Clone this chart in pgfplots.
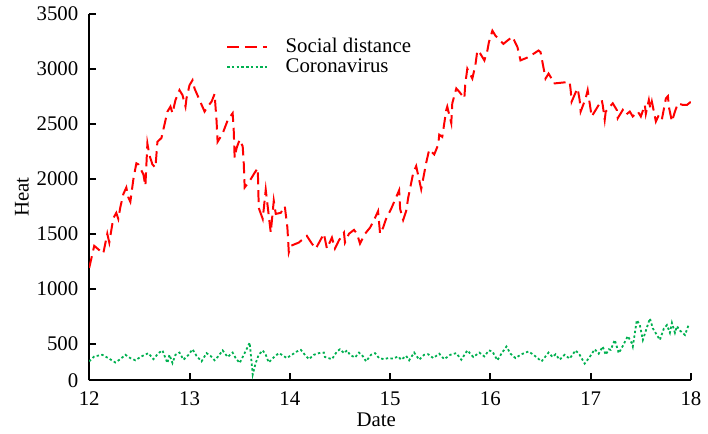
\documentclass[border=0pt]{standalone}
\usepackage{fontspec}
\setmainfont{Liberation Serif}
\usepackage{pgfplots}
\pgfplotsset{compat=1.18}
\definecolor{redline}{RGB}{255,0,0}
\definecolor{greenline}{RGB}{0,176,80}
\begin{document}
\begin{tikzpicture}
\begin{axis}[
  scale only axis,
  width=303.5pt, height=185pt,
  xmin=12, xmax=18, ymin=167, ymax=3500,
  axis x line*=bottom, axis y line*=left,
  axis line style={line width=1pt},
  tick align=inside,
  major tick length=3.5pt,
  tick style={line width=1pt, black},
  xtick={12,13,14,15,16,17,18},
  xticklabels={12,13,14,15,16,17,18},
  ytick={167,500,1000,1500,2000,2500,3000,3500},
  yticklabels={0,500,1000,1500,2000,2500,3000,3500},
  font=\fontsize{10.5}{12}\selectfont,
  ticklabel style={font=\fontsize{10.5}{12}\selectfont},
  yticklabel style={xshift=-2pt},
  xticklabel style={yshift=-2pt},
  xlabel={Date}, ylabel={Heat},
  xlabel style={yshift=3pt, xshift=-7pt},
  ylabel style={at={(axis description cs:-0.112,0.5)}, anchor=center},
  legend style={draw=none, fill=none, at={(0.217,0.955)}, anchor=north west,
    font=\fontsize{10.5}{12}\selectfont, row sep=-2.5pt},
  legend cell align=left,
  legend image code/.code={\draw[#1] (0pt,0pt) -- (20pt,0pt); \path (27pt,0pt);},
]
\addplot[redline, line width=1pt, dash pattern=on 6pt off 3pt] coordinates {
(12.00,1190) (12.05,1390) (12.14,1320) (12.18,1500) (12.20,1420) (12.24,1640)
(12.27,1690) (12.29,1635) (12.31,1740) (12.34,1860) (12.37,1920) (12.39,1830)
(12.41,1790) (12.44,1995) (12.47,2140) (12.49,2130) (12.54,2040) (12.56,1935)
(12.58,2320) (12.60,2215) (12.63,2130) (12.66,2100) (12.68,2335) (12.72,2370)
(12.75,2490) (12.78,2610) (12.81,2655) (12.83,2595) (12.86,2715) (12.90,2805)
(12.93,2760) (12.96,2655) (12.97,2730) (13.00,2850) (13.03,2895) (13.05,2820)
(13.10,2715) (13.15,2610) (13.18,2655) (13.22,2700) (13.25,2770) (13.27,2520)
(13.28,2335) (13.33,2410) (13.38,2530) (13.43,2595) (13.44,2460) (13.45,2190)
(13.47,2280) (13.50,2355) (13.53,2295) (13.54,2160) (13.55,1920) (13.60,1980)
(13.65,2055) (13.68,2095) (13.685,1950) (13.69,1735) (13.73,1635) (13.76,1900)
(13.81,1510) (13.84,1800) (13.86,1680) (13.91,1690) (13.95,1750) (13.976,1555)
(13.99,1330) (14.01,1390) (14.09,1420) (14.17,1480) (14.22,1410) (14.26,1365)
(14.28,1400) (14.34,1500) (14.37,1365) (14.42,1465) (14.45,1365) (14.49,1440)
(14.54,1510) (14.55,1420) (14.59,1500) (14.64,1535) (14.67,1500) (14.70,1410)
(14.75,1500) (14.80,1555) (14.85,1645) (14.88,1705) (14.90,1500) (14.93,1555)
(14.96,1635) (15.01,1725) (15.09,1895) (15.10,1725) (15.13,1625) (15.16,1705)
(15.18,1825) (15.23,2050) (15.26,2115) (15.31,1905) (15.36,2145) (15.39,2265)
(15.44,2220) (15.48,2310) (15.49,2400) (15.52,2380) (15.56,2625) (15.57,2655)
(15.61,2505) (15.62,2685) (15.66,2820) (15.69,2790) (15.74,2730) (15.75,2865)
(15.77,3000) (15.82,2910) (15.85,3030) (15.87,3165) (15.90,3135) (15.94,3075)
(15.97,3165) (15.985,3240) (16.02,3345) (16.05,3300) (16.13,3225) (16.17,3255)
(16.22,3290) (16.27,3195) (16.30,3075) (16.38,3105) (16.48,3165) (16.50,3150)
(16.55,2910) (16.58,2955) (16.61,2910) (16.63,2865) (16.79,2880) (16.80,2810)
(16.81,2700) (16.86,2805) (16.87,2820) (16.89,2715) (16.90,2610) (16.95,2730)
(16.97,2805) (16.99,2685) (17.01,2565) (17.04,2610) (17.11,2715) (17.12,2670)
(17.14,2535) (17.15,2610) (17.22,2685) (17.26,2625) (17.27,2550) (17.32,2625)
(17.35,2580) (17.39,2610) (17.42,2565) (17.47,2610) (17.50,2565) (17.54,2670)
(17.55,2590) (17.58,2715) (17.595,2635) (17.61,2700) (17.65,2520) (17.68,2580)
(17.71,2540) (17.75,2730) (17.77,2750) (17.78,2650) (17.81,2520) (17.84,2610)
(17.87,2685) (17.92,2670) (17.96,2670) (18.00,2700)
};
\addlegendentry{Social distance}
\addplot[greenline, line width=0.9pt, dash pattern=on 1.2pt off 1.2pt] coordinates {
(12.00,340) (12.05,385) (12.13,400) (12.19,370) (12.26,330) (12.31,360)
(12.36,400) (12.41,370) (12.46,350) (12.52,385) (12.59,415) (12.64,360)
(12.69,415) (12.73,440) (12.76,370) (12.78,325) (12.80,400) (12.83,325)
(12.86,400) (12.90,420) (12.94,355) (12.99,400) (13.03,450) (13.07,390)
(13.12,340) (13.17,415) (13.21,390) (13.25,350) (13.29,390) (13.33,440)
(13.38,380) (13.43,420) (13.46,370) (13.50,325) (13.55,415) (13.60,510)
(13.61,415) (13.63,220) (13.66,325) (13.69,400) (13.73,440) (13.76,400)
(13.79,330) (13.85,385) (13.89,415) (13.92,400) (13.97,370) (14.02,400)
(14.07,430) (14.11,445) (14.15,400) (14.19,360) (14.24,400) (14.29,415)
(14.34,420) (14.35,380) (14.42,360) (14.47,430) (14.50,450) (14.54,415)
(14.57,440) (14.60,400) (14.65,375) (14.69,420) (14.73,385) (14.76,340)
(14.81,400) (14.85,415) (14.89,370) (14.94,360) (14.98,370) (15.03,365)
(15.08,385) (15.11,355) (15.16,390) (15.19,350) (15.24,420) (15.29,355)
(15.34,400) (15.38,405) (15.43,370) (15.49,410) (15.54,360) (15.60,400)
(15.66,415) (15.71,355) (15.77,440) (15.83,380) (15.89,420) (15.94,385)
(15.985,440) (16.02,430) (16.07,350) (16.11,410) (16.16,475) (16.20,410)
(16.25,370) (16.31,405) (16.38,430) (16.43,400) (16.51,340) (16.58,420)
(16.62,380) (16.65,405) (16.69,355) (16.74,400) (16.79,365) (16.85,440)
(16.89,400) (16.94,320) (16.99,380) (17.04,450) (17.08,410) (17.12,475)
(17.15,400) (17.18,450) (17.20,445) (17.24,535) (17.28,415) (17.32,480)
(17.37,570) (17.41,505) (17.42,475) (17.46,715) (17.49,670) (17.52,535)
(17.59,730) (17.62,640) (17.69,535) (17.73,640) (17.76,670) (17.79,600)
(17.81,690) (17.84,600) (17.86,660) (17.89,620) (17.94,580) (17.98,680)
};
\addlegendentry{Coronavirus}
\end{axis}
\path (current axis.south west) ++(-45pt,0pt);
\end{tikzpicture}
\end{document}
